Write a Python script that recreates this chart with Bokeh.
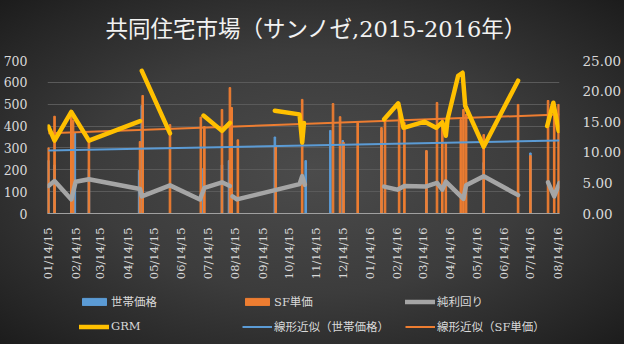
import numpy as np
import pandas as pd
from math import pi
from bokeh.plotting import figure
from bokeh.layouts import column
from bokeh.models import (Range1d, LinearAxis, FixedTicker, SingleIntervalTicker,
                          NumeralTickFormatter, DatetimeTickFormatter, Legend, LegendItem,
                          Label)
from bokeh.embed import file_html
from bokeh.resources import INLINE

title_text = "共同住宅市場（サンノゼ,2015-2016年）"

tick_dates = ["2015-01-14", "2015-02-14", "2015-03-14", "2015-04-14", "2015-05-14",
              "2015-06-14", "2015-07-14", "2015-08-14", "2015-09-14", "2015-10-14",
              "2015-11-14", "2015-12-14", "2016-01-14", "2016-02-14", "2016-03-14",
              "2016-04-14", "2016-05-14", "2016-06-14", "2016-07-14", "2016-08-14"]

# 世帯価格 (blue bars, left axis)
price_dates = ["2015-01-14", "2015-01-21", "2015-02-13", "2015-03-01", "2015-04-27",
               "2015-04-30", "2015-07-09", "2015-07-30", "2015-08-07", "2015-09-28",
               "2015-11-02", "2015-11-30", "2015-12-14", "2016-01-27", "2016-03-18",
               "2016-05-22", "2016-07-14"]
price_vals = [242, 222, 368, 204, 197, 494, 206, 222, 242, 350,
              242, 380, 334, 380, 285, 233, 277]

# SF単価 (orange bars, left axis)
sf_dates = ["2015-01-14", "2015-01-21", "2015-02-09", "2015-02-11", "2015-03-01",
            "2015-04-28", "2015-05-01", "2015-06-01", "2015-07-06", "2015-07-10",
            "2015-07-30", "2015-08-08", "2015-08-10", "2015-08-17", "2015-09-29",
            "2015-10-29", "2015-12-03", "2015-12-11", "2015-12-15", "2015-12-31",
            "2016-01-27", "2016-01-31", "2016-02-16", "2016-02-22", "2016-03-18",
            "2016-03-30", "2016-04-05", "2016-04-09", "2016-04-26", "2016-04-29",
            "2016-05-02", "2016-05-22", "2016-06-30", "2016-07-14", "2016-08-03",
            "2016-08-10", "2016-08-15"]
sf_vals = [300, 445, 445, 425, 333, 329, 540, 407, 441, 398,
           476, 576, 485, 337, 306, 522, 503, 443, 325, 416,
           393, 429, 480, 416, 288, 508, 430, 325, 430, 476,
           453, 361, 499, 265, 517, 494, 499]

# 純利回り (gray line, right axis); None marks a break in the line
yield_dates = ["2015-01-14", "2015-01-21", "2015-02-09", "2015-02-14", "2015-03-01",
               "2015-04-28", "2015-04-30", "2015-06-01", "2015-07-05", "2015-07-10",
               "2015-07-30", "2015-08-08", "2015-08-09", "2015-08-11", "2015-08-16",
               "2015-10-26", "2015-10-29", "2015-11-01", "2015-11-02", "2016-01-30",
               "2016-02-14", "2016-02-22", "2016-03-17", "2016-03-30", "2016-04-05",
               "2016-04-09", "2016-04-29", "2016-05-02", "2016-05-22", "2016-06-30",
               "2016-07-01", "2016-08-03", "2016-08-10", "2016-08-16"]
yield_vals = [4.5, 5.3, 2.3, 5.2, 5.6,
              4.0, 2.8, 4.6, 2.3, 4.2,
              5.1, 4.5, None, 2.8, 2.3,
              4.8, 6.1, 4.7, None, 4.4,
              3.9, 4.5, 4.4, 5.0, 3.9,
              5.2, 2.4, 4.6, 6.1, 3.0,
              None, 5.1, 2.8, 5.0]

# GRM (yellow line, right axis); None marks a break in the line
grm_dates = ["2015-01-14", "2015-01-21", "2015-02-09", "2015-03-01", "2015-04-28",
             "2015-04-29", "2015-04-30", "2015-06-01", "2015-06-02", "2015-07-09",
             "2015-07-30", "2015-08-08", "2015-08-09", "2015-09-28", "2015-10-26",
             "2015-10-29", "2015-10-31", "2015-11-01", "2016-01-30", "2016-02-15",
             "2016-02-21", "2016-03-16", "2016-03-29", "2016-04-05", "2016-04-09",
             "2016-04-11", "2016-04-23", "2016-04-28", "2016-05-01", "2016-05-22",
             "2016-06-30", "2016-07-01", "2016-08-02", "2016-08-09", "2016-08-15"]
grm_vals = [14.2, 11.9, 16.6, 11.9, 15.1,
            None, 23.3, 13.1, None, 16.0,
            13.5, 14.8, None, 16.8, 16.2,
            11.6, 14.8, None, 15.4, 18.0,
            14.0, 15.0, 14.0, 14.9, 12.7,
            15.4, 22.5, 23.0, 17.6, 10.9,
            21.7, None, 14.3, 18.1, 13.5]

# 線形近似 (trend lines, left axis)
trend_dates = ["2015-01-14", "2016-08-16"]
trend_price = [288, 334]
trend_sf = [367, 453]

legend_labels = ["世帯価格", "SF単価", "純利回り", "GRM", "線形近似（世帯価格）", "線形近似（SF単価）"]

DAY = 86400000
FONT = "DejaVu Serif, Noto Sans CJK JP"
LABEL = "#d9d9d9"
BLUE, ORANGE, GRAY, YELLOW = "#5B9BD5", "#ED7D31", "#A5A5A5", "#FFC000"
X0, X1 = pd.Timestamp("2015-01-13"), pd.Timestamp("2016-08-16")

def dts(lst):
    return pd.to_datetime(pd.Series(lst))

def nums(lst):
    return np.array([np.nan if v is None else v for v in lst], dtype=float)

W = 624
H_TITLE = 46
H_MAIN = 244
H_LEG = 54

def strip(h):
    f = figure(width=W, height=h, output_backend="svg", toolbar_location=None,
               x_axis_location=None, y_axis_location=None,
               x_range=Range1d(0, 1), y_range=Range1d(0, 1),
               min_border_left=0, min_border_right=0, min_border_top=0, min_border_bottom=0)
    f.grid.visible = False
    f.background_fill_alpha = 0
    f.border_fill_alpha = 0
    f.outline_line_color = None
    return f

# title strip
tp = strip(H_TITLE)
tp.add_layout(Label(x=269, y=18, x_units="screen", y_units="screen", text=title_text,
                    text_align="center", text_baseline="middle", text_font=FONT,
                    text_font_size="22.5px", text_color="#f2f2f2"))

# main chart
p = figure(width=W, height=H_MAIN, output_backend="svg", toolbar_location=None,
           x_axis_type="datetime", x_range=Range1d(X0, X1), y_range=Range1d(0, 700),
           min_border_left=44, min_border_right=60, min_border_top=14,
           min_border_bottom=H_MAIN - 167)
p.extra_y_ranges = {"right": Range1d(0, 25)}
p.background_fill_alpha = 0
p.border_fill_alpha = 0
p.outline_line_color = None
p.title.visible = False

p.vbar(x=dts(price_dates), top=price_vals, width=1.8 * DAY, color=BLUE)
p.vbar(x=dts(sf_dates), top=sf_vals, width=1.8 * DAY, color=ORANGE)
p.line(dts(trend_dates), trend_price, color=BLUE, line_width=2)
p.line(dts(trend_dates), trend_sf, color=ORANGE, line_width=2)
p.line(dts(yield_dates), nums(yield_vals), y_range_name="right", color=GRAY,
       line_width=4.5, line_join="round", line_cap="round")
p.line(dts(grm_dates), nums(grm_vals), y_range_name="right", color=YELLOW,
       line_width=4.5, line_join="round", line_cap="round")

p.yaxis.ticker = SingleIntervalTicker(interval=100, num_minor_ticks=0)
right = LinearAxis(y_range_name="right",
                   ticker=SingleIntervalTicker(interval=5, num_minor_ticks=0),
                   formatter=NumeralTickFormatter(format="0.00"))
p.add_layout(right, "right")

ticks = list(pd.to_datetime(pd.Series(tick_dates)).astype("int64") // 10**6)
p.xaxis.ticker = FixedTicker(ticks=ticks)
fmt = "%m/%d/%y"
p.xaxis.formatter = DatetimeTickFormatter(days=fmt, months=fmt, years=fmt, hours=fmt,
                                          minutes=fmt, seconds=fmt, milliseconds=fmt,
                                          minsec=fmt, hourmin=fmt)
p.xaxis.major_label_orientation = pi / 2

for ax in p.yaxis + p.xaxis:
    ax.major_tick_line_color = None
    ax.minor_tick_line_color = None
    ax.major_label_text_color = LABEL
    ax.major_label_text_font = "DejaVu Serif"
for ax in p.yaxis:
    ax.axis_line_color = None
p.yaxis[0].major_label_text_font_size = "12.5px"
p.yaxis[0].major_label_standoff = 14
right.major_label_text_font_size = "13.5px"
right.major_label_standoff = 17
p.xaxis.axis_line_color = "#a0a0a0"
p.xaxis.major_label_text_font_size = "11.5px"
p.xaxis.major_label_standoff = 8

p.xgrid.grid_line_color = None
p.ygrid.grid_line_color = "#5a5a5a"
p.ygrid.ticker = SingleIntervalTicker(interval=100, num_minor_ticks=0)

# legend strip: key glyphs only (NaN data, nothing drawn in the strip itself)
lp = strip(H_LEG)
nan1 = [np.nan]
lk = [
    lp.vbar(x=nan1, top=nan1, width=1, color=BLUE),
    lp.vbar(x=nan1, top=nan1, width=1, color=ORANGE),
    lp.line(x=nan1, y=nan1, color=GRAY, line_width=4.5, line_cap="round"),
    lp.line(x=nan1, y=nan1, color=YELLOW, line_width=4.5, line_cap="round"),
    lp.line(x=nan1, y=nan1, color=BLUE, line_width=2),
    lp.line(x=nan1, y=nan1, color=ORANGE, line_width=2),
]
legend = Legend(items=[LegendItem(label=t, renderers=[r]) for t, r in zip(legend_labels, lk)],
                ncols=3, location=(32, 8), orientation="horizontal")
legend.background_fill_alpha = 0
legend.border_line_alpha = 0
legend.label_text_color = LABEL
legend.label_text_font = FONT
legend.label_text_font_size = "11.5px"
legend.glyph_width = 30
legend.glyph_height = 9
legend.label_height = 20
legend.label_width = 126
legend.label_standoff = 2
legend.spacing = 5
legend.padding = 0
legend.margin = 0
lp.add_layout(legend, "center")

layout = column(tp, p, lp, spacing=0)
layout.styles = {"background": "radial-gradient(ellipse at 50% 50%, #4b4b4b 0%, #3c3c3c 50%, #262626 85%, #1c1c1c 100%)"}

open("out.html", "w").write(file_html(layout, INLINE))
